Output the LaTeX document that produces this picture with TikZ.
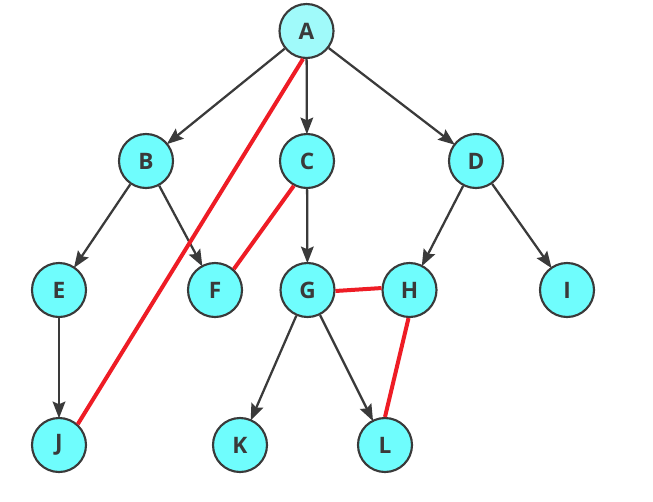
\documentclass[tikz,border=0pt]{standalone}
\usepackage{fontspec}
\setmainfont{Open Sans}
\usetikzlibrary{arrows.meta}
\definecolor{nodefill}{HTML}{6FFDFD}
\definecolor{rootfill}{HTML}{A0FAFA}
\definecolor{edgegray}{HTML}{3A3A3A}
\definecolor{redline}{HTML}{EE1C25}
\tikzset{
  vert/.style={circle, draw=edgegray, line width=1.6pt, fill=nodefill,
    minimum size=40.5pt, inner sep=0pt, text=edgegray,
    font=\fontsize{17}{20}\selectfont\bfseries},
  tree/.style={draw=edgegray, line width=1.7pt,
    -{Stealth[length=12.5pt,width=9.5pt,inset=2pt]}, shorten >=-1pt},
  redlink/.style={draw=redline, line width=3pt}
}
\begin{document}
\begin{tikzpicture}[x=0.75pt,y=-0.75pt]
\useasboundingbox (0,0) rectangle (653,501);
\node[vert, fill=rootfill] (A) at (306.5,31) {A};
\node[vert] (B) at (146,161) {B};
\node[vert] (C) at (307,161) {C};
\node[vert] (D) at (476,161) {D};
\node[vert] (E) at (59,290) {E};
\node[vert] (F) at (215,290) {F};
\node[vert] (G) at (307.5,290) {G};
\node[vert] (H) at (409.5,290) {H};
\node[vert] (I) at (567,290) {I};
\node[vert] (J) at (59,445) {J};
\node[vert] (K) at (240,445) {K};
\node[vert] (L) at (385,445) {L};
\draw[tree] (A) -- (B);
\draw[tree] (A) -- (C);
\draw[tree] (A) -- (D);
\draw[tree] (B) -- (E);
\draw[tree] (B) -- (F);
\draw[tree] (C) -- (G);
\draw[tree] (D) -- (H);
\draw[tree] (D) -- (I);
\draw[tree] (E) -- (J);
\draw[tree] (G) -- (K);
\draw[tree] (G) -- (L);
\draw[redlink] (A.-97) -- (J.48);
\draw[redlink] (C.-118) -- (F.48);
\draw[redlink] (G.-2) -- (H.176);
\draw[redlink] (H.-92) -- (L.90);
\end{tikzpicture}
\end{document}
